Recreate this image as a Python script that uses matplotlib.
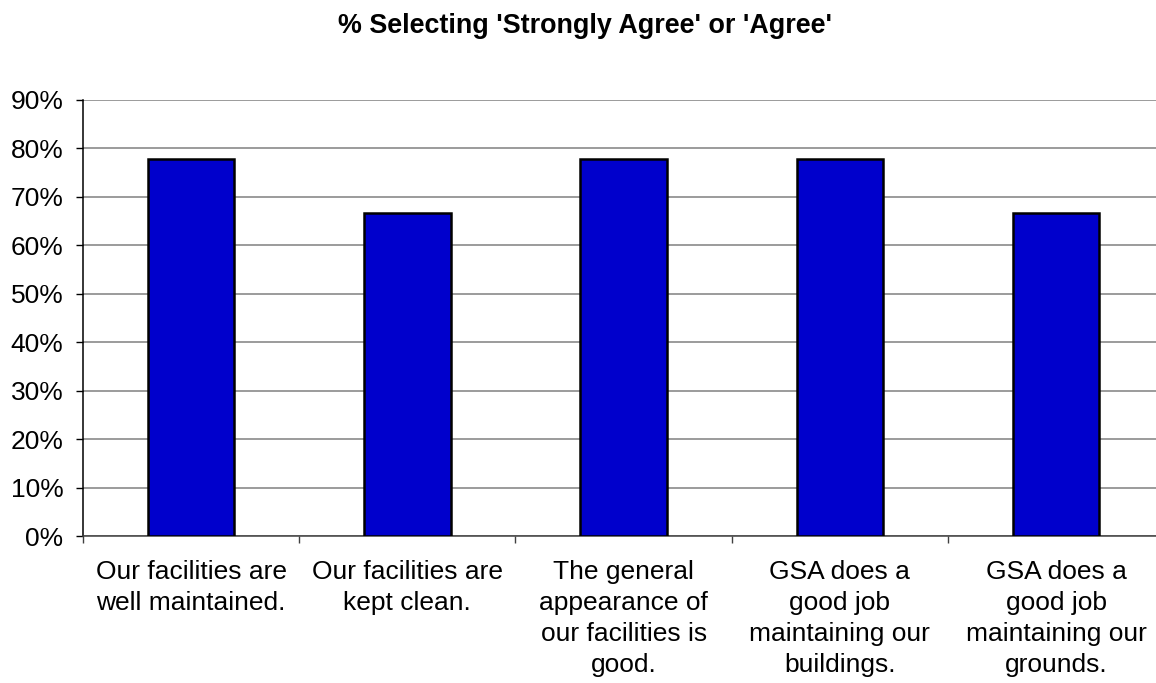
import matplotlib
matplotlib.use('Agg')
import matplotlib.pyplot as plt
from matplotlib.ticker import PercentFormatter, FixedLocator, NullFormatter

plt.rcParams['font.family'] = ['Liberation Sans', 'DejaVu Sans']

# survey statements and share agreeing
statements = [
	"Our facilities are\nwell maintained.",
	"Our facilities are\nkept clean.",
	"The general\nappearance of\nour facilities is\ngood.",
	"GSA does a\ngood job\nmaintaining our\nbuildings.",
	"GSA does a\ngood job\nmaintaining our\ngrounds.",
]
agree_pct = [77.8, 66.7, 77.8, 77.8, 66.7]
title = "% Selecting 'Strongly Agree' or 'Agree'"

fig = plt.figure(figsize=(11.56, 6.83), dpi=100)
# plot area runs slightly past the right edge of the canvas
ax = fig.add_axes([0.0718, 0.2152, 0.9353, 0.6384])

x = list(range(len(statements)))
ax.bar(x, agree_pct, width=0.4, color='#0000CC', edgecolor='black', linewidth=1.8, zorder=3)

ax.set_xlim(-0.5, len(statements) - 0.5)
ax.set_ylim(0, 90)
ax.set_yticks(range(0, 91, 10))
ax.yaxis.set_major_formatter(PercentFormatter(decimals=0))
ax.yaxis.grid(True, color='#808080', linewidth=1.1, zorder=0)

ax.set_xticks(x)
ax.set_xticklabels(statements, fontsize=19, linespacing=1.36)
ax.xaxis.set_minor_locator(FixedLocator([i + 0.5 for i in range(-1, len(statements))]))
ax.xaxis.set_minor_formatter(NullFormatter())
ax.tick_params(axis='x', which='major', length=0, pad=17.5)
ax.tick_params(axis='x', which='minor', length=5, width=1, color='#404040')
ax.tick_params(axis='y', labelsize=19, length=5, width=1, pad=9, colors='black')

for side in ('top', 'right'):
	ax.spines[side].set_visible(False)
ax.spines['left'].set_linewidth(1.1)
ax.spines['left'].set_color('black')
ax.spines['bottom'].set_linewidth(1.1)
ax.spines['bottom'].set_color('#404040')

fig.text(0.506, 0.9517, title, ha='center', va='baseline', fontsize=19.4, fontweight='bold')

fig.savefig('out.png', dpi=100)
plt.close(fig)
